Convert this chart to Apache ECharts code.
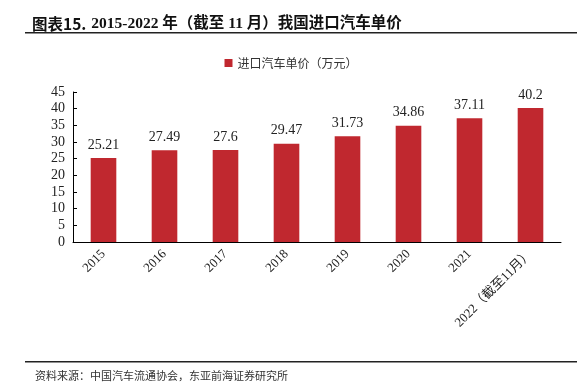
<!DOCTYPE html>
<html>
<head>
<meta charset="utf-8">
<script src="https://cdn.jsdelivr.net/npm/echarts@6/dist/echarts.min.js"></script>
<style>
  html, body { margin: 0; padding: 0; background: #fff; }
  #chart { width: 582px; height: 392px; }
</style>
</head>
<body>
<div id="chart"></div>
<script>
  const years = ["2015", "2016", "2017", "2018", "2019", "2020", "2021", "2022（截至11月）"];
  const unitPrice = [25.21, 27.49, 27.6, 29.47, 31.73, 34.86, 37.11, 40.2];
  const seriesName = "进口汽车单价（万元）";
  const serif = "'Liberation Serif', 'Noto Sans CJK SC', serif";
  const cjk = "'Noto Sans CJK SC', sans-serif";

  const chart = echarts.init(document.getElementById("chart"));
  chart.setOption({
    animation: false,
    title: {
      left: 27,
      top: 10,
      text: "{a|图表15.} {b|2015-2022 年（截至 11 月）我国进口汽车单价}",
      textStyle: {
        rich: {
          a: { fontFamily: cjk, fontWeight: "bold", fontSize: 15.5, color: "#111" },
          b: { fontFamily: serif, fontWeight: "bold", fontSize: 15.5, color: "#111" }
        }
      }
    },
    legend: {
      top: 52,
      left: "center",
      itemWidth: 8,
      itemHeight: 8,
      itemGap: 4,
      icon: "rect",
      textStyle: { fontFamily: cjk, fontSize: 12, color: "#333" },
      data: [seriesName]
    },
    grid: { left: 73, right: 21, top: 92, bottom: 150 },
    xAxis: {
      type: "category",
      data: years,
      axisLine: { lineStyle: { color: "#000", width: 1 } },
      axisTick: { show: false },
      axisLabel: {
        rotate: 45,
        interval: 0,
        margin: 10,
        fontFamily: serif,
        fontSize: 13,
        color: "#222"
      }
    },
    yAxis: {
      type: "value",
      min: 0,
      max: 45,
      interval: 5,
      splitLine: { show: false },
      axisLine: { show: true, lineStyle: { color: "#000", width: 1 } },
      axisTick: { show: true, inside: true, length: 4, lineStyle: { color: "#000" } },
      axisLabel: { fontFamily: serif, fontSize: 14, color: "#222", margin: 8 }
    },
    series: [{
      name: seriesName,
      type: "bar",
      data: unitPrice,
      barWidth: "42%",
      itemStyle: { color: "#c0282f" },
      label: {
        show: true,
        position: "top",
        distance: 6,
        fontFamily: serif,
        fontSize: 14,
        color: "#222"
      }
    }],
    graphic: [
      { type: "rect", shape: { x: 25, y: 32, width: 552, height: 1.5 }, style: { fill: "#222" } },
      { type: "rect", shape: { x: 25, y: 361, width: 552, height: 1.5 }, style: { fill: "#222" } },
      {
        type: "text",
        left: 35,
        top: 370,
        style: { text: "资料来源：中国汽车流通协会，东亚前海证券研究所", font: "11px " + cjk, fill: "#333" }
      }
    ]
  });
</script>
</body>
</html>
